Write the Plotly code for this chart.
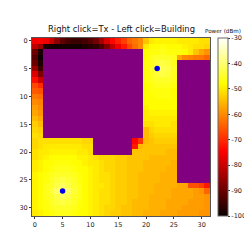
import plotly.graph_objects as go

B = None
power_dbm = [
[-76,-75,-76,-80,-86,-91,-94,-95,-95,-94,-92,-89,-84,-78,-74,-71,-68,-64,-62,-60,-54,-50,-49,-49,-49,-49,-50,-50,-50,-50,-51,-51],
[-81,-85,-98,-99,-99,-99,-99,-99,-99,-98,-97,-96,-93,-88,-81,-76,-72,-67,-63,-60,-50,-48,-48,-47,-48,-48,-48,-49,-50,-51,-51,-52],
[-90,-98,B,B,B,B,B,B,B,B,B,B,B,B,B,B,B,B,B,B,-48,-47,-47,-46,-47,-47,-47,-48,-50,-54,-57,-59],
[-92,-100,B,B,B,B,B,B,B,B,B,B,B,B,B,B,B,B,B,B,-48,-46,-45,-45,-45,-46,-57,-60,-61,-62,-62,-64],
[-90,-98,B,B,B,B,B,B,B,B,B,B,B,B,B,B,B,B,B,B,-47,-46,-44,-43,-44,-46,B,B,B,B,B,B],
[-85,-95,B,B,B,B,B,B,B,B,B,B,B,B,B,B,B,B,B,B,-47,-45,-43,-42,-43,-45,B,B,B,B,B,B],
[-78,-88,B,B,B,B,B,B,B,B,B,B,B,B,B,B,B,B,B,B,-47,-46,-44,-43,-44,-46,B,B,B,B,B,B],
[-73,-80,B,B,B,B,B,B,B,B,B,B,B,B,B,B,B,B,B,B,-47,-46,-45,-45,-45,-46,B,B,B,B,B,B],
[-67,-70,B,B,B,B,B,B,B,B,B,B,B,B,B,B,B,B,B,B,-48,-47,-46,-46,-46,-47,B,B,B,B,B,B],
[-65,-66,B,B,B,B,B,B,B,B,B,B,B,B,B,B,B,B,B,B,-48,-47,-47,-47,-47,-48,B,B,B,B,B,B],
[-62,-63,B,B,B,B,B,B,B,B,B,B,B,B,B,B,B,B,B,B,-48,-48,-47,-47,-47,-48,B,B,B,B,B,B],
[-60,-61,B,B,B,B,B,B,B,B,B,B,B,B,B,B,B,B,B,B,-48,-48,-48,-48,-48,-48,B,B,B,B,B,B],
[-58,-60,B,B,B,B,B,B,B,B,B,B,B,B,B,B,B,B,B,B,-49,-48,-48,-48,-48,-48,B,B,B,B,B,B],
[-57,-59,B,B,B,B,B,B,B,B,B,B,B,B,B,B,B,B,B,B,-50,-49,-49,-49,-49,-49,B,B,B,B,B,B],
[-55,-57,B,B,B,B,B,B,B,B,B,B,B,B,B,B,B,B,B,B,-50,-50,-50,-50,-50,-50,B,B,B,B,B,B],
[-53,-55,B,B,B,B,B,B,B,B,B,B,B,B,B,B,B,B,B,B,-51,-51,-50,-50,-50,-51,B,B,B,B,B,B],
[-52,-53,B,B,B,B,B,B,B,B,B,B,B,B,B,B,B,B,B,B,-55,-52,-51,-51,-51,-51,B,B,B,B,B,B],
[-51,-52,B,B,B,B,B,B,B,B,B,B,B,B,B,B,B,B,B,B,-55,-53,-52,-52,-52,-52,B,B,B,B,B,B],
[-52,-51,-51,-51,-51,-51,-51,-51,-51,-52,-52,B,B,B,B,B,B,B,-74,-69,-55,-54,-53,-53,-53,-53,B,B,B,B,B,B],
[-52,-51,-50,-50,-50,-50,-50,-50,-50,-51,-51,B,B,B,B,B,B,B,-72,-55,-54,-54,-54,-54,-54,-54,B,B,B,B,B,B],
[-51,-50,-50,-49,-49,-49,-49,-49,-50,-50,-51,B,B,B,B,B,B,B,-54,-54,-54,-54,-54,-54,-55,-55,B,B,B,B,B,B],
[-51,-50,-49,-48,-48,-48,-48,-48,-49,-49,-50,-51,-52,-52,-52,-53,-53,-54,-54,-54,-54,-55,-55,-55,-55,-55,B,B,B,B,B,B],
[-50,-49,-48,-48,-47,-47,-47,-48,-48,-49,-50,-50,-51,-52,-52,-53,-53,-54,-54,-54,-55,-55,-55,-55,-55,-56,B,B,B,B,B,B],
[-50,-49,-48,-47,-46,-46,-46,-47,-48,-48,-49,-50,-51,-52,-52,-53,-53,-54,-54,-54,-55,-55,-55,-55,-56,-56,B,B,B,B,B,B],
[-49,-48,-47,-46,-45,-45,-45,-46,-47,-48,-49,-50,-51,-51,-52,-53,-53,-54,-54,-55,-55,-55,-55,-56,-56,-56,B,B,B,B,B,B],
[-49,-48,-47,-45,-44,-43,-44,-45,-47,-48,-49,-50,-51,-51,-52,-53,-53,-54,-54,-55,-55,-55,-55,-56,-56,-56,B,B,B,B,B,B],
[-49,-48,-46,-45,-43,-41,-43,-45,-46,-48,-49,-50,-50,-51,-52,-53,-53,-54,-54,-55,-55,-55,-56,-56,-56,-56,-57,-57,-66,-66,-68,-72],
[-49,-48,-46,-44,-41,-40,-41,-44,-46,-48,-49,-50,-51,-51,-52,-53,-53,-54,-54,-55,-55,-55,-56,-56,-56,-57,-57,-57,-57,-58,-59,-64],
[-49,-48,-46,-45,-43,-41,-43,-45,-46,-48,-49,-50,-51,-51,-52,-53,-53,-54,-54,-55,-55,-56,-56,-56,-56,-57,-57,-57,-57,-58,-58,-59],
[-49,-48,-47,-45,-44,-43,-44,-45,-47,-48,-49,-50,-51,-51,-52,-53,-53,-54,-55,-55,-55,-56,-56,-56,-57,-57,-57,-57,-58,-58,-58,-59],
[-49,-48,-47,-46,-45,-45,-45,-46,-47,-48,-49,-50,-51,-52,-52,-53,-54,-54,-55,-55,-55,-56,-56,-56,-57,-57,-57,-58,-58,-58,-58,-59],
[-50,-49,-48,-47,-46,-46,-46,-47,-48,-48,-49,-50,-51,-52,-53,-53,-54,-54,-55,-55,-56,-56,-56,-57,-57,-57,-58,-58,-58,-58,-59,-59],
]

tx_cols = [5, 22]
tx_rows = [27, 5]
axis_ticks = [0, 5, 10, 15, 20, 25, 30]
bar_ticks = [-30, -40, -50, -60, -70, -80, -90, -100]
bar_labels = ["-30", "-40", "-50", "-60", "-70", "-80", "-90", "-100"]
title = "Right click=Tx - Left click=Building"
bar_title = "Power (dBm)"

FONT = "DejaVu Sans"
hot = [[0, "rgb(10,0,0)"], [0.365, "rgb(255,0,0)"], [0.746, "rgb(255,255,0)"], [1, "rgb(255,255,255)"]]

fig = go.Figure()
fig.add_trace(go.Heatmap(
    z=power_dbm, zmin=-100, zmax=-30, colorscale=hot, hoverongaps=False,
    colorbar=dict(
        thickness=10, thicknessmode="pixels", len=1, lenmode="fraction",
        x=1.043, xanchor="left", y=0.5, yanchor="middle",
        tickmode="array", tickvals=bar_ticks, ticktext=bar_labels,
        ticks="outside", ticklen=2, tickwidth=0.7, tickcolor="#333",
        tickfont=dict(family=FONT, size=6.5, color="#222"),
        outlinecolor="#666", outlinewidth=1, xpad=0, ypad=0,
    ),
))
fig.add_trace(go.Scatter(
    x=tx_cols, y=tx_rows, mode="markers",
    marker=dict(color="#0000ee", size=5.5), showlegend=False,
))
axis = dict(
    tickmode="array", tickvals=axis_ticks, ticks="outside", ticklen=2,
    tickwidth=0.7, tickcolor="#333", showgrid=False, zeroline=False,
    showline=True, mirror=True, linecolor="#555", linewidth=1,
    tickfont=dict(family=FONT, size=6.5, color="#222"),
)
fig.update_xaxes(range=[-0.5, 31.5], **axis)
fig.update_yaxes(range=[31.5, -0.5], **axis)
fig.update_layout(
    width=244, height=244, autosize=False,
    margin=dict(l=24, r=42, t=30, b=36, autoexpand=False),
    paper_bgcolor="white", plot_bgcolor="purple", showlegend=False,
    annotations=[
        dict(text=title, xref="paper", yref="paper", x=0.5, y=1, yshift=2,
             xanchor="center", yanchor="bottom", showarrow=False,
             font=dict(family=FONT, size=8.4, color="#111")),
        dict(text=bar_title, xref="paper", yref="paper", x=1.071, y=1, yshift=2,
             xanchor="center", yanchor="bottom", showarrow=False,
             font=dict(family=FONT, size=5.6, color="#111")),
    ],
)
fig.write_html("out.html")
